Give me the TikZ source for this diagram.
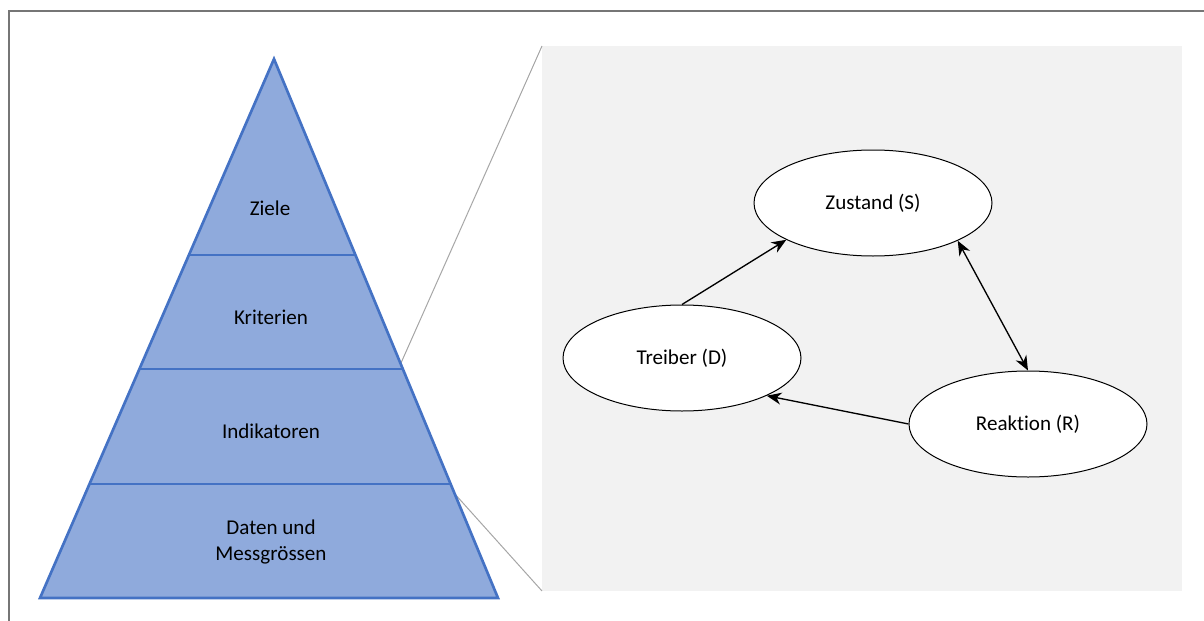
\documentclass[tikz,border=0pt]{standalone}
\usepackage{fontspec}
\setmainfont{Carlito}[Ligatures=NoCommon]
\usetikzlibrary{shapes.geometric,arrows.meta}

\definecolor{pyrfill}{RGB}{143,170,220}
\definecolor{pyrline}{RGB}{68,114,196}
\definecolor{panelgray}{RGB}{242,242,242}
\definecolor{zoomgray}{RGB}{166,166,166}
\definecolor{framegray}{RGB}{118,118,118}

\tikzset{
  txt/.style={font=\fontsize{15.8}{20}\selectfont, align=center},
  dpsir/.style={ellipse, draw=black, fill=white, line width=0.75pt,
    minimum width=178.5pt, minimum height=79.5pt, txt},
  arr/.style={line width=1pt, -{Stealth[length=11pt,width=9pt]}},
  biarr/.style={line width=1pt, {Stealth[length=11pt,width=9pt]}-{Stealth[length=11pt,width=9pt]}}
}

\begin{document}
\begin{tikzpicture}[x=0.75pt,y=0.75pt,yscale=-1,xscale=1]
\path[use as bounding box] (0,0) rectangle (1204,621);

%Shape: Frame
\draw [color=framegray, line width=1.5pt] (9,621) -- (9,11) -- (1204,11) ;
%Shape: Rectangle (panel)
\fill [panelgray] (542,46) rectangle (1182,591) ;
%Straight Lines (zoom)
\draw [color=zoomgray, line width=0.75pt] (401,363) -- (542,46) ;
\draw [color=zoomgray, line width=0.75pt] (454,493) -- (542,591) ;

%Shape: Triangle (pyramid)
\draw [fill=pyrfill, draw=pyrline, line width=2pt, line join=miter] (274,59) -- (498,598) -- (40,598) -- cycle ;
%Straight Lines (levels)
\draw [color=pyrline, line width=1pt] (189,255) -- (355.5,255) ;
\draw [color=pyrline, line width=1pt] (139.4,369) -- (402.8,369) ;
\draw [color=pyrline, line width=1pt] (89.5,484) -- (450.6,484) ;

% Text Node
\draw (270,208) node [txt] (ziele) {Ziele};
% Text Node
\draw (271,317) node [txt] (kriterien) {Kriterien};
% Text Node
\draw (271,431) node [txt] (indikatoren) {Indikatoren};
% Text Node
\draw (271,542) node [txt] (daten) {Daten und\\Messgrössen};

%Shape: Ellipses
\draw (873,203) node [dpsir] (S) {Zustand (S)};
\draw (682,358) node [dpsir] (D) {Treiber (D)};
\draw (1028,424) node [dpsir] (R) {Reaktion (R)};

%Straight Lines (arrows)
\draw [arr] (D.north) -- (S.203) ;
\draw [arr] (R.west) -- (D.-24) ;
\draw [biarr] (S.-24) -- (R.north) ;

\end{tikzpicture}
\end{document}
